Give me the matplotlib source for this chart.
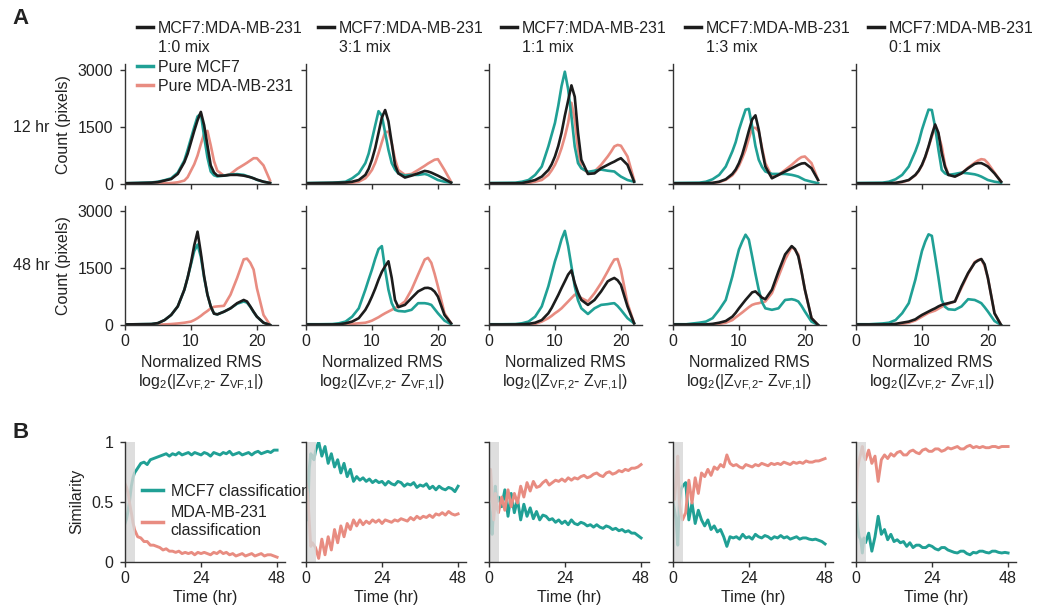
import numpy as np
import matplotlib.pyplot as plt
from matplotlib.lines import Line2D

# ==== ESTILO ====
plt.rcParams['font.family'] = ['Liberation Sans', 'DejaVu Sans']
plt.rcParams['font.size'] = 11.5
plt.rcParams['mathtext.fontset'] = 'custom'
plt.rcParams['mathtext.rm'] = 'Liberation Sans'
plt.rcParams['mathtext.it'] = 'Liberation Sans:italic'
plt.rcParams['text.color'] = '#222222'
plt.rcParams['axes.labelcolor'] = '#222222'
plt.rcParams['xtick.color'] = '#333333'
plt.rcParams['ytick.color'] = '#333333'
plt.rcParams['xtick.labelcolor'] = '#222222'
plt.rcParams['ytick.labelcolor'] = '#222222'

TEAL = '#20a095'
PINK = '#e88c81'
BLACK = '#1c1c1c'
SPINE = '#333333'

# ==== DATOS: histogramas (A) ====
x_rms = [0, 2, 4, 5, 6, 7, 8, 9, 9.5, 10, 10.5, 11, 11.5, 12, 12.5, 13, 13.5, 14,
         15, 16, 17, 18, 18.5, 19, 19.5, 20, 21, 22]
mixes = ['1:0', '3:1', '1:1', '1:3', '0:1']
rows = ['12 hr', '48 hr']

# 12 hr
mcf7_12 = [
    [20, 30, 40, 60, 100, 150, 300, 620, 900, 1200, 1500, 1780, 1850, 1250, 700, 330, 230, 200, 220, 250, 260, 240, 210, 180, 150, 110, 60, 25],
    [25, 30, 35, 45, 60, 150, 280, 550, 800, 1170, 1550, 1920, 1800, 1350, 900, 550, 380, 280, 220, 240, 240, 265, 240, 195, 150, 105, 60, 35],
    [25, 30, 35, 60, 105, 240, 460, 990, 1300, 1610, 2060, 2580, 2960, 2500, 1790, 990, 550, 415, 320, 350, 380, 350, 340, 330, 260, 195, 105, 60],
    [25, 30, 35, 60, 125, 240, 460, 860, 1100, 1430, 1700, 1960, 1980, 1520, 1000, 640, 450, 330, 265, 265, 265, 240, 220, 195, 150, 105, 60, 20],
    [25, 30, 35, 60, 125, 240, 460, 860, 1100, 1430, 1700, 1960, 1950, 1500, 900, 370, 280, 240, 265, 300, 280, 255, 230, 195, 150, 105, 60, 35],
]
mda_12 = [
    [10, 10, 15, 15, 20, 25, 45, 90, 180, 350, 520, 750, 1050, 1330, 1400, 1020, 600, 350, 220, 265, 400, 505, 560, 620, 680, 680, 490, 90],
    [15, 15, 20, 20, 25, 35, 60, 150, 250, 370, 560, 815, 1100, 1370, 1380, 1080, 650, 370, 240, 265, 370, 480, 540, 590, 640, 655, 370, 60],
    [15, 15, 20, 20, 25, 60, 105, 240, 360, 505, 700, 945, 1250, 1610, 2140, 1700, 900, 420, 300, 330, 505, 725, 850, 990, 1030, 1010, 725, 105],
    [15, 15, 15, 20, 25, 50, 110, 230, 340, 480, 680, 900, 1200, 1480, 1480, 1390, 950, 550, 195, 240, 370, 505, 580, 655, 710, 725, 550, 105],
    [15, 15, 15, 20, 25, 50, 100, 230, 340, 490, 700, 970, 1250, 1480, 1300, 990, 500, 260, 200, 280, 430, 560, 620, 655, 640, 550, 300, 60],
]
mix_12 = [
    [20, 25, 35, 50, 90, 130, 265, 575, 800, 1100, 1400, 1680, 1900, 1550, 1020, 490, 300, 220, 220, 240, 240, 220, 200, 180, 150, 115, 60, 25],
    [20, 25, 30, 35, 40, 60, 105, 240, 400, 640, 950, 1350, 1750, 1950, 1650, 1080, 500, 280, 170, 220, 280, 345, 330, 300, 260, 220, 130, 35],
    [20, 20, 20, 25, 60, 105, 195, 370, 520, 725, 1000, 1350, 1800, 2200, 2600, 2300, 1350, 640, 265, 280, 415, 505, 550, 590, 640, 680, 505, 60],
    [20, 20, 20, 25, 30, 60, 125, 265, 380, 550, 780, 1080, 1400, 1700, 1810, 1430, 900, 460, 150, 240, 330, 415, 460, 505, 540, 550, 415, 105],
    [20, 20, 20, 25, 30, 60, 105, 240, 350, 505, 720, 990, 1300, 1570, 1350, 815, 450, 240, 195, 280, 415, 530, 550, 550, 510, 460, 280, 60],
]

# 48 hr
mcf7_48 = [
    [15, 20, 25, 50, 130, 265, 490, 930, 1250, 1600, 1950, 2120, 1800, 1250, 800, 490, 300, 280, 350, 440, 560, 620, 590, 480, 340, 220, 60, 0],
    [20, 20, 25, 45, 90, 220, 440, 930, 1200, 1460, 1750, 2000, 2080, 1460, 930, 575, 400, 370, 355, 400, 575, 575, 560, 530, 420, 310, 115, 20],
    [20, 20, 25, 45, 90, 220, 490, 1020, 1350, 1680, 1950, 2260, 2480, 2080, 1550, 1020, 650, 440, 290, 440, 530, 550, 565, 575, 500, 400, 180, 45],
    [20, 20, 60, 90, 180, 400, 660, 1280, 1650, 1990, 2200, 2380, 2250, 1810, 1350, 930, 600, 440, 400, 440, 660, 680, 660, 620, 500, 355, 90, 0],
    [20, 20, 40, 60, 130, 310, 575, 1195, 1580, 1950, 2200, 2390, 2350, 1810, 1250, 660, 480, 415, 400, 490, 680, 660, 620, 575, 470, 355, 105, 0],
]
mda_48 = [
    [10, 10, 10, 10, 15, 25, 40, 60, 75, 90, 130, 180, 240, 310, 370, 440, 480, 490, 505, 800, 1240, 1730, 1750, 1640, 1460, 970, 265, 0],
    [10, 10, 10, 10, 15, 30, 45, 60, 85, 115, 160, 205, 260, 310, 355, 400, 445, 490, 620, 930, 1330, 1725, 1770, 1640, 1350, 1020, 310, 45],
    [10, 10, 10, 10, 15, 30, 90, 180, 240, 310, 370, 440, 530, 620, 710, 800, 760, 710, 620, 840, 1105, 1415, 1580, 1725, 1740, 1460, 575, 45],
    [10, 10, 10, 10, 15, 30, 60, 130, 200, 265, 330, 400, 470, 530, 560, 575, 600, 620, 840, 1280, 1725, 2060, 1980, 1860, 1400, 930, 180, 0],
    [10, 10, 10, 10, 15, 30, 60, 120, 170, 220, 270, 320, 350, 380, 430, 480, 520, 560, 620, 980, 1350, 1660, 1710, 1730, 1560, 1240, 310, 0],
]
mix_48 = [
    [15, 20, 25, 50, 130, 265, 490, 930, 1250, 1640, 2100, 2460, 1900, 1280, 800, 490, 300, 280, 350, 440, 575, 660, 620, 490, 350, 220, 60, 0],
    [15, 15, 15, 20, 45, 90, 180, 400, 560, 750, 960, 1195, 1400, 1550, 1680, 1240, 660, 470, 530, 710, 885, 975, 980, 955, 880, 750, 265, 45],
    [15, 15, 15, 20, 30, 60, 130, 310, 450, 620, 790, 975, 1150, 1330, 1440, 1105, 850, 660, 530, 660, 885, 1150, 1200, 1240, 1180, 1060, 490, 45],
    [15, 15, 15, 15, 30, 60, 105, 220, 320, 440, 550, 660, 760, 860, 885, 800, 720, 680, 930, 1415, 1860, 2080, 2000, 1810, 1400, 930, 180, 0],
    [15, 15, 15, 15, 30, 60, 90, 150, 210, 265, 310, 355, 400, 440, 490, 530, 555, 575, 620, 1020, 1370, 1640, 1700, 1740, 1600, 1240, 310, 0],
]

# ==== DATOS: similitud en el tiempo (B) ====
t_sim = [0, 0.5, 1, 1.5, 2, 2.5] + list(range(3, 49))
sim_mcf7 = [
    [0.32, 0.36, 0.43, 0.52, 0.63, 0.70, 0.74, 0.78, 0.82, 0.83, 0.81, 0.85, 0.86, 0.87, 0.88, 0.89, 0.90, 0.88, 0.90, 0.89, 0.91, 0.89, 0.90, 0.91, 0.89, 0.91,
     0.90, 0.89, 0.91, 0.90, 0.88, 0.91, 0.90, 0.89, 0.91, 0.90, 0.92, 0.89, 0.90, 0.91, 0.89, 0.90, 0.91, 0.89, 0.91, 0.92, 0.90, 0.91, 0.92, 0.91, 0.93, 0.93],
    [0.63, 0.35, 0.77, 0.90, 0.88, 0.85, 0.92, 1.00, 0.88, 0.96, 0.82, 0.90, 0.79, 0.85, 0.74, 0.82, 0.71, 0.77, 0.67, 0.71, 0.68, 0.70, 0.67, 0.69, 0.66, 0.68,
     0.66, 0.67, 0.64, 0.67, 0.65, 0.64, 0.67, 0.66, 0.63, 0.65, 0.64, 0.66, 0.62, 0.64, 0.63, 0.65, 0.61, 0.63, 0.60, 0.63, 0.61, 0.60, 0.62, 0.61, 0.585, 0.63],
    [0.49, 0.41, 0.23, 0.46, 0.63, 0.50, 0.54, 0.46, 0.60, 0.38, 0.57, 0.41, 0.52, 0.35, 0.48, 0.38, 0.45, 0.36, 0.42, 0.35, 0.39, 0.38, 0.35, 0.36, 0.33, 0.35,
     0.32, 0.34, 0.31, 0.35, 0.32, 0.31, 0.33, 0.32, 0.30, 0.31, 0.29, 0.31, 0.29, 0.28, 0.30, 0.29, 0.27, 0.28, 0.26, 0.27, 0.25, 0.26, 0.24, 0.24, 0.22, 0.20],
    [0.49, 0.43, 0.35, 0.14, 0.49, 0.60, 0.63, 0.66, 0.35, 0.49, 0.32, 0.43, 0.35, 0.30, 0.35, 0.27, 0.30, 0.25, 0.27, 0.21, 0.13, 0.21, 0.20, 0.21, 0.19, 0.23,
     0.20, 0.21, 0.19, 0.23, 0.21, 0.20, 0.22, 0.21, 0.19, 0.21, 0.20, 0.22, 0.20, 0.21, 0.19, 0.20, 0.21, 0.19, 0.20, 0.20, 0.19, 0.185, 0.19, 0.18, 0.17, 0.15],
    [0.49, 0.30, 0.21, 0.185, 0.075, 0.20, 0.16, 0.24, 0.09, 0.21, 0.38, 0.23, 0.27, 0.185, 0.23, 0.17, 0.185, 0.16, 0.17, 0.13, 0.16, 0.12, 0.14, 0.14, 0.12, 0.12,
     0.14, 0.13, 0.11, 0.10, 0.12, 0.12, 0.10, 0.09, 0.08, 0.075, 0.09, 0.09, 0.07, 0.06, 0.08, 0.075, 0.09, 0.09, 0.08, 0.075, 0.09, 0.09, 0.08, 0.075, 0.08, 0.075],
]
sim_mda = [
    [0.65, 0.62, 0.57, 0.48, 0.41, 0.33, 0.27, 0.21, 0.20, 0.17, 0.17, 0.14, 0.14, 0.13, 0.12, 0.10, 0.11, 0.09, 0.09, 0.08, 0.09, 0.07, 0.08, 0.07, 0.08, 0.06,
     0.08, 0.07, 0.08, 0.07, 0.06, 0.08, 0.07, 0.09, 0.07, 0.08, 0.06, 0.07, 0.05, 0.06, 0.07, 0.05, 0.06, 0.07, 0.05, 0.06, 0.07, 0.05, 0.06, 0.06, 0.05, 0.04],
    [0.65, 0.57, 0.35, 0.13, 0.16, 0.14, 0.12, 0.03, 0.19, 0.06, 0.21, 0.10, 0.27, 0.16, 0.30, 0.21, 0.32, 0.27, 0.35, 0.30, 0.35, 0.31, 0.34, 0.32, 0.35, 0.33,
     0.35, 0.32, 0.35, 0.34, 0.33, 0.35, 0.34, 0.36, 0.35, 0.34, 0.37, 0.35, 0.38, 0.36, 0.38, 0.37, 0.39, 0.37, 0.40, 0.39, 0.41, 0.39, 0.42, 0.40, 0.39, 0.40],
    [0.52, 0.77, 0.54, 0.35, 0.57, 0.45, 0.41, 0.54, 0.43, 0.60, 0.46, 0.57, 0.49, 0.63, 0.54, 0.66, 0.59, 0.67, 0.62, 0.63, 0.66, 0.68, 0.64, 0.66, 0.68, 0.67,
     0.69, 0.67, 0.70, 0.68, 0.70, 0.69, 0.71, 0.72, 0.70, 0.71, 0.73, 0.74, 0.72, 0.71, 0.74, 0.75, 0.73, 0.74, 0.76, 0.75, 0.77, 0.76, 0.78, 0.78, 0.79, 0.81],
    [0.60, 0.52, 0.68, 0.88, 0.49, 0.40, 0.35, 0.41, 0.68, 0.49, 0.70, 0.57, 0.74, 0.71, 0.77, 0.72, 0.79, 0.77, 0.81, 0.79, 0.89, 0.82, 0.80, 0.81, 0.79, 0.78,
     0.81, 0.80, 0.79, 0.81, 0.80, 0.82, 0.81, 0.80, 0.82, 0.81, 0.82, 0.81, 0.83, 0.82, 0.81, 0.83, 0.82, 0.83, 0.82, 0.84, 0.83, 0.83, 0.84, 0.84, 0.85, 0.86],
    [0.49, 0.77, 0.85, 0.90, 0.96, 0.88, 0.85, 0.93, 0.82, 0.88, 0.67, 0.85, 0.89, 0.86, 0.90, 0.88, 0.91, 0.92, 0.89, 0.89, 0.92, 0.93, 0.91, 0.90, 0.93, 0.94,
     0.92, 0.92, 0.94, 0.94, 0.92, 0.93, 0.95, 0.94, 0.95, 0.96, 0.94, 0.94, 0.96, 0.97, 0.95, 0.96, 0.95, 0.96, 0.95, 0.95, 0.96, 0.96, 0.95, 0.96, 0.96, 0.96],
]

# ==== FIGURA ====
W, H = 1040, 605
fig = plt.figure(figsize=(W / 100, H / 100), dpi=100)


def add_axes_px(left, bottom, width, height):
    # posiciones en pixeles (origen arriba a la izquierda)
    return fig.add_axes([left / W, 1 - bottom / H, width / W, height / H])


def style_axes(ax):
    ax.spines['top'].set_visible(False)
    ax.spines['right'].set_visible(False)
    for s in ('left', 'bottom'):
        ax.spines[s].set_color(SPINE)
        ax.spines[s].set_linewidth(1.0)
        ax.spines[s].set_zorder(6)
    ax.tick_params(direction='out', length=3.5, width=1.0)
    ax.tick_params(axis='y', pad=5)
    ax.tick_params(axis='x', pad=3)


col_left = [125, 306, 489, 673, 856]
hist_rows = [(mcf7_12, mda_12, mix_12, 184), (mcf7_48, mda_48, mix_48, 325)]
xlab = 'Normalized RMS\nlog$_2$(|Z$_{\\mathrm{VF{,}2}}$- Z$_{\\mathrm{VF{,}1}}$|)'

# ==== A: HISTOGRAMAS ====
for r, (mcf7, mda, mix, ybot) in enumerate(hist_rows):
    for c in range(5):
        ax = add_axes_px(col_left[c], ybot, 153, 119.5)
        ax.plot(x_rms, mda[c], color=PINK, lw=1.9, zorder=1)
        ax.plot(x_rms, mcf7[c], color=TEAL, lw=1.9, zorder=2)
        ax.plot(x_rms, mix[c], color=BLACK, lw=1.9, zorder=3)
        ax.set_xlim(0, 23.2)
        ax.set_ylim(0, 3150)
        ax.set_xticks([0, 10, 20])
        ax.set_yticks([0, 1500, 3000])
        style_axes(ax)
        if c == 0:
            ax.set_ylabel('Count (pixels)')
            ax.yaxis.set_label_coords(-0.353, 0.5)
            fig.text(13 / W, 1 - (ybot - 57 - 3 * r) / H, rows[r], va='center', ha='left')
        else:
            ax.set_yticklabels([])
        if r == 0:
            ax.set_xticklabels([])
            # leyenda de cada mezcla
            black_h = Line2D([], [], color=BLACK, lw=2.5)
            blank_h = Line2D([], [], color='none')
            handles = [black_h, blank_h]
            labels = ['MCF7:MDA-MB-231', mixes[c] + ' mix']
            if c == 0:
                handles += [Line2D([], [], color=TEAL, lw=2.5), Line2D([], [], color=PINK, lw=2.5)]
                labels += ['Pure MCF7', 'Pure MDA-MB-231']
            ax.legend(handles, labels, loc='upper left',
                      bbox_to_anchor=((col_left[c] + 12) / W, 1 - 21 / H),
                      bbox_transform=fig.transFigure, frameon=False,
                      borderpad=0, borderaxespad=0, handlelength=1.0,
                      handletextpad=0.3, labelspacing=0.27)
        else:
            ax.set_xlabel(xlab, labelpad=4, linespacing=1.25)

# ==== B: SIMILITUD ====
for c in range(5):
    ax = add_axes_px(col_left[c], 562, 160, 120.3)
    ax.plot(t_sim, sim_mcf7[c], color=TEAL, lw=2.1, zorder=2, label='MCF7 classification')
    ax.plot(t_sim, sim_mda[c], color=PINK, lw=2.1, zorder=3, label='MDA-MB-231\nclassification')
    ax.axvspan(0, 3.2, color='#d6d6d6', alpha=0.8, lw=0, zorder=5)
    ax.set_xlim(0, 50.5)
    ax.set_ylim(0, 1)
    ax.set_xticks([0, 24, 48])
    ax.set_yticks([0, 0.5, 1])
    ax.set_yticklabels(['0', '0.5', '1'])
    style_axes(ax)
    ax.set_xlabel('Time (hr)', labelpad=3)
    if c == 0:
        ax.set_ylabel('Similarity')
        ax.yaxis.set_label_coords(-0.256, 0.5)
        leg = ax.legend(loc='upper left', bbox_to_anchor=(142 / W, 1 - 484 / H),
                        bbox_transform=fig.transFigure, frameon=False,
                        borderpad=0, borderaxespad=0, handlelength=1.3,
                        handletextpad=0.5, labelspacing=0.35)
        for txt in leg.get_texts():
            txt.set_linespacing(1.3)
        for h in leg.legend_handles:
            h.set_linewidth(2.5)
    else:
        ax.set_yticklabels([])

# etiquetas de panel
fig.text(12 / W, 1 - 18 / H, 'A', fontsize=16, fontweight='bold', va='center')
fig.text(12 / W, 1 - 432 / H, 'B', fontsize=16, fontweight='bold', va='center')

plt.savefig('out.png', dpi=100)
